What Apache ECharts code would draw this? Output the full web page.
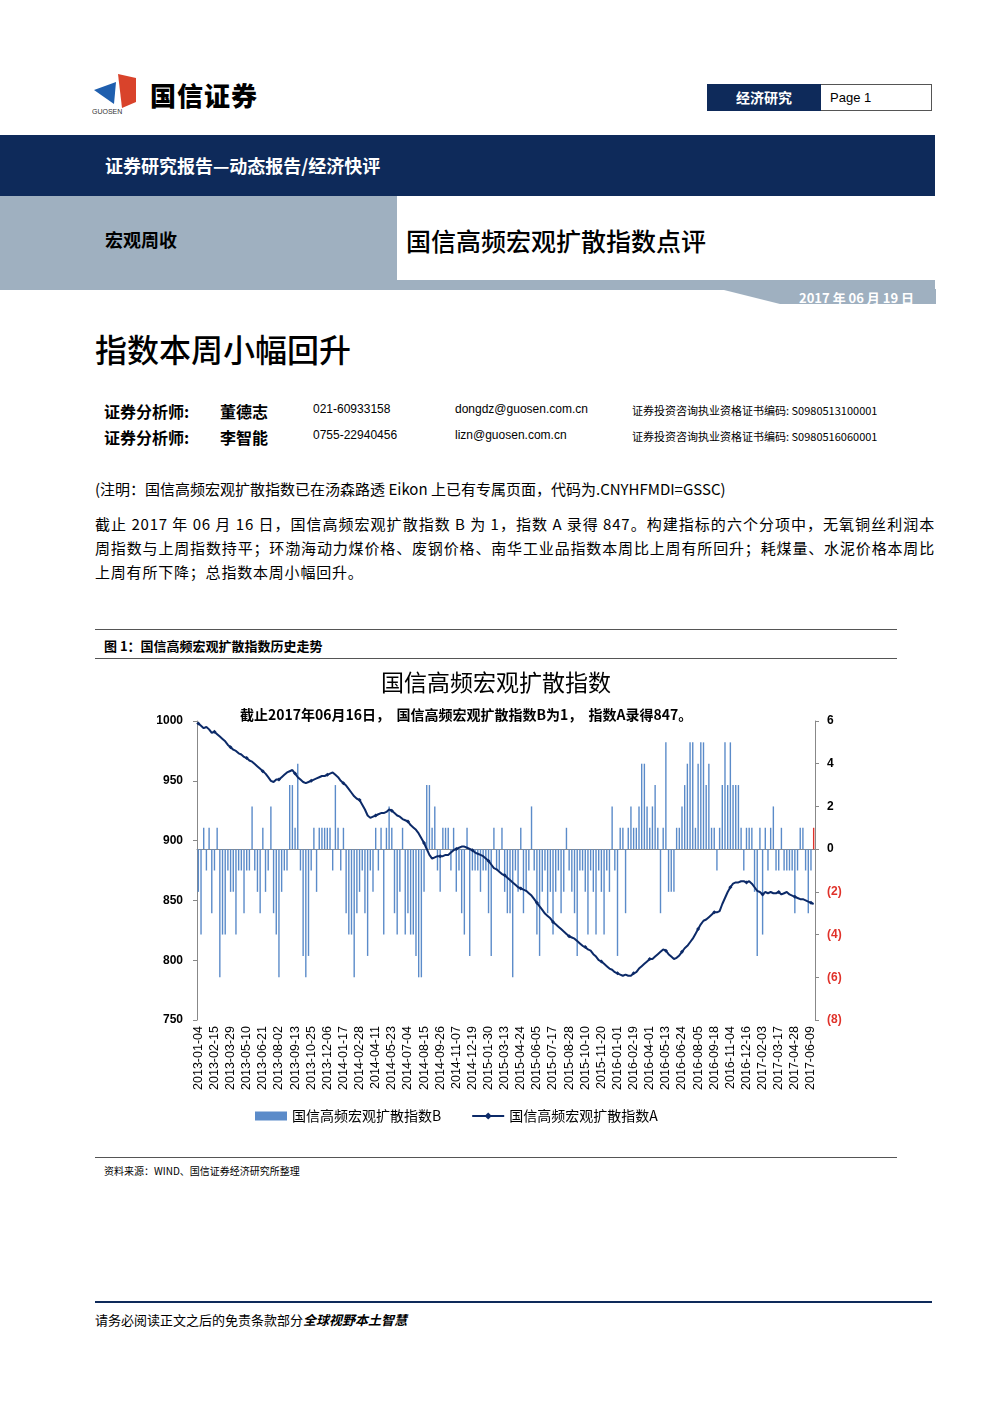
<!DOCTYPE html>
<html><head><meta charset="utf-8">
<script src="https://cdn.jsdelivr.net/npm/echarts@6/dist/echarts.min.js"></script>
<style>
body{margin:0;width:992px;height:1403px;position:relative;background:#fff;font-family:"Liberation Sans","Noto Sans CJK SC",sans-serif;color:#000;overflow:hidden}
.a{position:absolute;white-space:nowrap}
.cj{font-family:"Noto Sans CJK SC",sans-serif}
</style></head><body>
<svg class="a" style="left:92px;top:72px" width="52" height="44"><polygon points="26,2 44,6 44,30 30,36" fill="#d9432b"/><polygon points="2,18 24,10 22,32" fill="#1f5fae"/><text x="0" y="42" font-size="7" font-family="Liberation Sans" fill="#333">GUOSEN</text></svg>
<div class="a cj" style="left:150px;top:76px;font-size:26px;font-weight:900;letter-spacing:1px">国信证券</div>
<div class="a" style="left:707px;top:84px;width:225px;height:27px;border:1px solid #555;box-sizing:border-box"></div>
<div class="a cj" style="left:707px;top:84px;width:114px;height:27px;background:#0e2a5a;color:#fff;font-size:14px;font-weight:700;line-height:27px;text-align:center">经济研究</div>
<div class="a" style="left:830px;top:84px;font-size:13px;line-height:27px">Page 1</div>
<div class="a" style="left:0;top:135px;width:935px;height:61px;background:#0e2a5a"></div>
<div class="a cj" style="left:105px;top:152px;color:#fff;font-size:18px;font-weight:700">证券研究报告—动态报告/经济快评</div>
<div class="a" style="left:0;top:196px;width:935px;height:94px;background:#9fb0c0"></div>
<div class="a" style="left:397px;top:196px;width:538px;height:84px;background:#fff"></div>
<div class="a cj" style="left:105px;top:226px;font-size:18px;font-weight:700">宏观周收</div>
<div class="a cj" style="left:406px;top:222px;font-size:25px;font-weight:500">国信高频宏观扩散指数点评</div>
<svg class="a" style="left:720px;top:289px" width="216" height="15"><polygon points="0,0 216,0 216,15 60,15" fill="#9fb0c0"/></svg>
<div class="a cj" style="left:799px;top:288px;color:#fff;font-size:13px;font-weight:700">2017 年 06 月 19 日</div>
<div class="a cj" style="left:95px;top:325px;font-size:32px;font-weight:500">指数本周小幅回升</div>
<div class="a cj" style="left:104px;top:399px;font-size:16px;font-weight:700">证券分析师:</div>
<div class="a cj" style="left:220px;top:399px;font-size:16px;font-weight:700">董德志</div>
<div class="a" style="left:313px;top:402px;font-size:12px">021-60933158</div>
<div class="a" style="left:455px;top:402px;font-size:12px">dongdz@guosen.com.cn</div>
<div class="a cj" style="left:632px;top:402px;font-size:11px">证券投资咨询执业资格证书编码:&nbsp;S0980513100001</div>
<div class="a cj" style="left:104px;top:425px;font-size:16px;font-weight:700">证券分析师:</div>
<div class="a cj" style="left:220px;top:425px;font-size:16px;font-weight:700">李智能</div>
<div class="a" style="left:313px;top:428px;font-size:12px">0755-22940456</div>
<div class="a" style="left:455px;top:428px;font-size:12px">lizn@guosen.com.cn</div>
<div class="a cj" style="left:632px;top:428px;font-size:11px">证券投资咨询执业资格证书编码:&nbsp;S0980516060001</div>
<div class="a cj" style="left:95px;top:478px;font-size:15px">(注明：国信高频宏观扩散指数已在汤森路透 Eikon 上已有专属页面，代码为.CNYHFMDI=GSSC)</div>
<div class="a cj" style="left:95px;top:512px;width:840px;font-size:15px;letter-spacing:0.8px;line-height:24px;white-space:normal;text-align:justify">截止 2017 年 06 月 16 日，国信高频宏观扩散指数 B 为 1，指数 A 录得 847。构建指标的六个分项中，无氧铜丝利润本周指数与上周指数持平；环渤海动力煤价格、废钢价格、南华工业品指数本周比上周有所回升；耗煤量、水泥价格本周比上周有所下降；总指数本周小幅回升。</div>
<div class="a" style="left:95px;top:629px;width:802px;border-top:1px solid #555"></div>
<div class="a cj" style="left:104px;top:636px;font-size:13px;font-weight:700">图 1：国信高频宏观扩散指数历史走势</div>
<div class="a" style="left:95px;top:658px;width:802px;border-top:1px solid #555"></div>
<div id="c" class="a" style="left:95px;top:662px;width:802px;height:478px"></div>
<div class="a" style="left:95px;top:1157px;width:802px;border-top:1px solid #555"></div>
<div class="a cj" style="left:104px;top:1163px;font-size:10px">资料来源：WIND、国信证券经济研究所整理</div>
<div class="a" style="left:95px;top:1301px;width:837px;border-top:2px solid #0e2a5a"></div>
<div class="a cj" style="left:95px;top:1310px;font-size:13px">请务必阅读正文之后的免责条款部分<b style="font-style:italic">全球视野本土智慧</b></div>
<script>
const startDate = '2013-01-04';
const endDate = '2017-06-16';
const skippedWeeks = ['2016-02-12','2016-10-07','2017-01-27'];
const relabeled = {'2015-10-09':'2015-10-10','2016-09-16':'2016-09-18'};
const seriesA = [
998,996,994,995,993,990,991,989,987,985,
983,980,978,976,975,973,972,970,969,967,
966,964,962,960,958,956,953,950,949,951,
951,953,955,957,958,959,956,953,951,949,
948,949,950,951,952,953,954,954,955,956,
957,955,953,950,948,946,943,940,937,935,
934,930,926,921,919,920,921,922,923,923,
924,926,925,923,921,920,918,917,916,913,
911,909,906,902,898,893,888,885,886,887,
887,887,888,888,890,892,893,894,895,895,
894,893,892,890,889,888,887,885,883,880,
877,876,874,872,871,869,867,865,863,861,
860,859,858,856,854,851,848,845,842,839,
837,835,832,830,828,826,824,822,820,819,
818,816,814,812,811,809,808,805,803,800,
799,797,795,793,792,790,789,788,787,788,
787,787,789,790,793,795,797,799,801,
801,803,805,807,809,808,805,803,801,802,
804,807,810,812,815,818,822,826,830,833,
834,836,838,840,840,841,847,852,857,
861,864,865,865,866,866,865,866,864,861,
858,857,855,857,856,857,856,856,857,
855,856,857,855,854,853,852,851,851,850,
849,848,847];
const seriesB = [
-2,-4,1,-1,1,-3,-1,1,-6,-4,-4,-1,-2,-2,-4,-1,-1,-3,-1,-1,2,-1,-2,
-3,1,-2,-1,2,-3,-4,-6,-2,-1,-1,3,3,1,4,-1,-5,-6,-5,-1,1,-2,1,
1,1,1,1,-1,3,1,-1,1,-3,-4,-4,-6,-3,-2,-1,-3,-5,-1,-2,1,-1,1,-4,
1,2,1,-3,-4,-2,1,-4,-3,-4,-4,-5,-6,-6,-2,3,3,1,2,-1,-2,1,1,
1,-1,1,-2,-1,-3,-4,1,-5,-1,-1,-1,-2,-1,-1,-3,-5,1,-1,-1,1,-2,-3,
-3,-6,-1,-2,1,-3,-2,-1,2,-1,-4,-5,-2,-1,-3,-2,-4,-2,-1,-3,-2,1,-1,
-2,-3,-5,-1,-1,-2,-4,-1,-2,-4,-1,-2,-4,-1,-2,2,-1,-5,1,1,-3,1,2,
1,1,2,4,4,2,1,2,3,1,-3,1,5,-2,-2,-2,1,1,2,3,4,5,
5,1,4,5,5,3,4,1,1,-1,1,3,5,3,5,3,3,3,1,-1,1,1,
1,-2,-5,1,-4,1,-1,1,2,-1,-1,1,-1,-1,-1,-1,-3,-1,1,1,-1,-3,-1,1];
const leftTicks = {min:750,max:1000,interval:50};
const rightTicks = {min:-8,max:6,interval:2};
const cats = [];
let t = new Date(startDate+'T00:00:00Z').getTime();
const tEnd = new Date(endDate+'T00:00:00Z').getTime();
while(t<=tEnd){const s=new Date(t).toISOString().slice(0,10); if(!skippedWeeks.includes(s)) cats.push(relabeled[s]||s); t+=7*86400000;}
const n = cats.length;
const A = seriesA.slice(-n), Bv = seriesB.slice(-n);
const bData = Bv.map((v,i)=> i===Bv.length-1 ? {value:v,itemStyle:{color:'#e0322a'}} : v);
const chart = echarts.init(document.getElementById('c'));
const tf = {fontFamily:'Liberation Sans',fontWeight:'bold',fontSize:12,color:'#000'};
chart.setOption({
  animation:false,
  title:[{text:'国信高频宏观扩散指数',left:'center',top:4,textStyle:{fontFamily:'Noto Sans CJK SC',fontSize:23,fontWeight:'normal',color:'#000'}},
         {text:'截止2017年06月16日，  国信高频宏观扩散指数B为1，  指数A录得847。',left:140,top:41,textStyle:{fontFamily:'Noto Sans CJK SC',fontSize:14,fontWeight:'bold',color:'#000'}}],
  grid:{left:102,right:82,top:59,bottom:120},
  legend:{bottom:12,left:155,itemGap:30,textStyle:{fontFamily:'Noto Sans CJK SC',fontSize:14,color:'#000'},
    data:[{name:'国信高频宏观扩散指数B',icon:'rect',itemStyle:{color:'#5b8bc9'}},{name:'国信高频宏观扩散指数A'}],itemWidth:32,itemHeight:9},
  xAxis:{type:'category',data:cats,boundaryGap:true,
    axisLine:{lineStyle:{color:'#888'}},axisTick:{interval:0,length:3,lineStyle:{color:'#888'}},
    axisLabel:{interval:5,rotate:90,fontFamily:'Liberation Sans',fontSize:12.5,color:'#000',margin:6}},
  yAxis:[{type:'value',...leftTicks,position:'left',splitLine:{show:false},
     axisLine:{show:true,lineStyle:{color:'#888'}},axisTick:{show:true,length:4,lineStyle:{color:'#888'}},axisLabel:{...tf,margin:14,formatter:v=>String(v)}},
    {type:'value',...rightTicks,position:'right',splitLine:{show:false},
     axisLine:{show:true,lineStyle:{color:'#888'}},axisTick:{show:true,length:4,lineStyle:{color:'#888'}},
     axisLabel:{...tf,margin:12,formatter:v=>v<0?'('+(-v)+')':String(v),color:v=>v<0?'#e0322a':'#000'}}],
  series:[
    {name:'国信高频宏观扩散指数B',type:'bar',yAxisIndex:1,data:bData,barWidth:1.4,itemStyle:{color:'#5b8bc9'}},
    {name:'国信高频宏观扩散指数A',type:'line',yAxisIndex:0,data:A,symbol:'diamond',symbolSize:4,
      lineStyle:{color:'#0c2a68',width:2},itemStyle:{color:'#0c2a68'}}
  ]
});
</script>
</body></html>
